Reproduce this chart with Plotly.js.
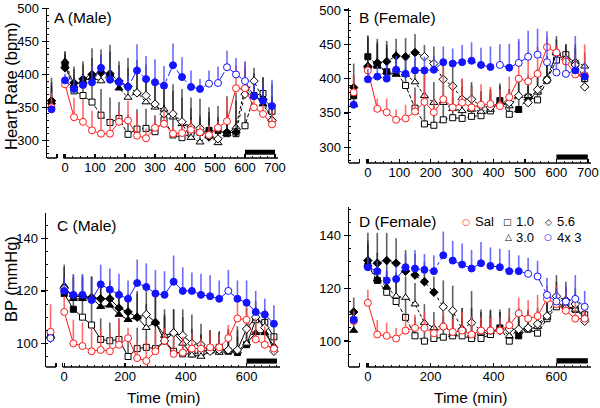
<!DOCTYPE html>
<html><head><meta charset="utf-8">
<script src="https://cdn.plot.ly/plotly-3.0.1.min.js"></script>
<style>html,body{margin:0;padding:0;background:#fff}#chart{width:600px;height:408px}</style>
</head><body><div id="chart"></div>
<script>
// time points (min); first is pre-treatment baseline
const T = [-45, 0, 30, 60, 90, 120, 150, 180, 210, 240, 270, 300, 330, 360, 390, 420, 450, 480, 510, 540, 570, 600, 630, 660, 690];
const seriesNames = ["Sal", "1.0", "3.0", "5.6", "4x 3"];

// ---- A: Heart rate, male
const A_sal = [350, 385, 335, 328, 315, 310, 310, 328, 330, 307, 303, 319, 325, 310, 311, 316, 312, 308, 319, 329, 379, 379, 350, 340, 324];
const A_sal_err = [22, 10, 30, 35, 30, 35, 25, 20, 30, 35, 15, 15, 20, 10, 15, 15, 10, 15, 10, 35, 35, 40, 20, 20, 20];
const A_sal_f = [0,0,0,0,0,0,0,0,0,0,0,0,0,0,0,0,0,0,0,0,0,0,0,0,0];
const A_10 = [352, 415, 375, 368, 358, 338, 327, 333, 309, 317, 318, 313, 331, 308, 304, 310, 312, 315, 315, 310, 310, 322, 368, 371, 344];
const A_10_err = [30, 15, 20, 30, 35, 40, 38, 25, 30, 30, 30, 25, 25, 30, 25, 25, 20, 20, 20, 20, 20, 20, 25, 25, 20];
const A_10_f = [1,1,0,0,0,0,0,0,0,0,0,0,0,0,0,0,0,1,1,0,0,0,0,0,0];
const A_30 = [358, 420, 383, 390, 395, 390, 400, 379, 365, 373, 358, 350, 347, 335, 325, 304, 297, 308, 296, 310, 320, 380, 367, 355, 332];
const A_30_err = [30, 15, 25, 25, 30, 40, 35, 35, 45, 40, 40, 35, 30, 40, 40, 45, 40, 35, 35, 35, 40, 30, 35, 30, 35];
const A_30_f = [1,1,1,1,1,0,1,1,0,0,0,0,0,0,0,0,0,0,0,0,0,0,1,1,0];
const A_56 = [360, 410, 387, 393, 400, 403, 401, 390, 382, 372, 368, 355, 340, 340, 328, 320, 318, 305, 302, 312, 312, 370, 390, 362, 330];
const A_56_err = [35, 25, 25, 27, 40, 35, 44, 30, 43, 50, 47, 40, 40, 45, 50, 45, 45, 45, 50, 55, 60, 40, 20, 33, 55];
const A_56_f = [1,1,1,1,1,1,1,1,1,0,0,0,0,0,0,0,0,1,0,1,1,0,0,1,0];
const A_43 = [347, 391, 378, 384, 388, 410, 392, 388, 381, 406, 393, 388, 383, 414, 396, 381, 378, 386, 387, 411, 400, 390, 367, 360, 352];
const A_43_err = [0, 10, 15, 15, 25, 20, 20, 20, 15, 40, 35, 35, 30, 33, 30, 25, 15, 20, 25, 25, 25, 30, 20, 25, 40];
const A_43_f = [1,1,1,1,1,1,1,1,1,1,1,1,1,1,1,1,1,0,0,0,0,0,1,1,1];

// ---- B: Heart rate, female
const B_sal = [380, 412, 356, 351, 340, 342, 352, 366, 351, 370, 358, 365, 358, 362, 363, 360, 373, 400, 396, 407, 446, 438, 425, 406, 405];
const B_sal_err = [25, 10, 15, 20, 15, 20, 25, 40, 20, 55, 35, 35, 30, 30, 25, 25, 30, 55, 40, 40, 15, 10, 10, 30, 45];
const B_sal_f = [0,0,0,0,0,0,0,0,0,0,0,0,0,0,0,0,0,0,0,0,0,0,0,0,0];
const B_10 = [375, 432, 420, 410, 410, 390, 357, 334, 332, 340, 343, 342, 345, 346, 353, 368, 348, 355, 373, 369, 398, 427, 435, 422, 400];
const B_10_err = [30, 30, 30, 35, 25, 25, 30, 30, 30, 25, 30, 30, 25, 25, 25, 25, 20, 25, 25, 20, 25, 20, 15, 20, 15];
const B_10_f = [1,1,1,1,0,0,0,0,0,0,0,0,0,0,0,1,0,1,1,0,0,0,0,0,0];
const B_30 = [362, 418, 418, 410, 406, 406, 395, 375, 365, 365, 356, 353, 355, 352, 355, 365, 360, 375, 375, 380, 400, 437, 430, 425, 418];
const B_30_err = [30, 40, 35, 40, 35, 30, 35, 35, 30, 35, 35, 35, 35, 30, 30, 25, 25, 25, 30, 25, 30, 20, 20, 25, 20];
const B_30_f = [1,1,1,1,1,0,0,0,0,0,0,0,0,0,0,0,0,0,0,0,0,0,0,0,0];
const B_56 = [387, 418, 423, 425, 433, 432, 438, 432, 422, 399, 389, 370, 370, 360, 358, 362, 365, 375, 365, 384, 398, 437, 428, 420, 388];
const B_56_err = [35, 45, 35, 30, 25, 27, 27, 17, 25, 30, 35, 30, 25, 20, 25, 25, 20, 25, 25, 30, 35, 25, 20, 25, 20];
const B_56_f = [1,1,1,1,1,1,1,0,0,0,0,0,0,0,0,0,0,0,0,0,0,0,0,0,0];
const B_43 = [362, 399, 403, 400, 413, 407, 412, 412, 413, 424, 422, 424, 426, 420, 417, 420, 416, 423, 432, 435, 424, 409, 407, 412, 403];
const B_43_err = [0, 15, 15, 20, 20, 20, 20, 20, 20, 23, 22, 25, 27, 25, 30, 30, 35, 35, 38, 38, 45, 25, 25, 50, 20];
const B_43_f = [1,1,1,1,1,1,1,1,1,1,1,1,1,1,1,0,1,0,0,0,0,0,0,1,1];

// ---- C: Blood pressure, male
const C_sal = [104.4, 112, 100, 99, 97, 97.5, 97, 99.5, 102, 94.4, 93.3, 97, 101, 96, 96.5, 98, 98, 98.5, 98.5, 102, 109.5, 109, 101.5, 99.5, 98];
const C_sal_err = [10.5, 6, 9, 9, 9, 8, 8, 10, 4, 6, 8, 8, 5, 7, 6, 6, 4, 6, 5, 5, 8, 8, 8, 7, 5];
const C_sal_f = [0,0,0,0,0,0,0,0,0,0,0,0,0,0,0,0,0,0,0,0,0,0,0,0,0];
const C_10 = [103, 119, 113, 110, 107, 101.5, 101, 101.5, 95, 98, 98.5, 98, 101, 97, 96, 96, 96.5, 98, 98.5, 97, 96.5, 99.5, 109, 108, 102.5];
const C_10_err = [2, 6, 7, 8, 8, 8, 7, 8, 6, 8, 8, 9, 9, 8, 8, 8, 7, 6, 6, 6, 6, 6, 5, 5, 5];
const C_10_f = [0,1,1,0,0,0,0,0,0,0,0,0,0,0,0,0,0,0,0,1,1,1,0,0,0];
const C_30 = [103, 122, 117, 117, 117.5, 114, 114.5, 111, 109, 110, 106, 108, 103, 104, 100, 95.5, 95, 97, 96.5, 97, 97, 100, 104, 104, 99];
const C_30_err = [2, 7, 8, 8, 8, 8, 7, 8, 7, 9, 9, 10, 10, 9, 10, 10, 8, 8, 7, 8, 8, 8, 6, 6, 5];
const C_30_f = [0,1,1,1,1,1,1,1,1,1,0,1,0,0,0,0,0,0,0,0,0,0,1,1,1];
const C_56 = [102, 121, 118, 118, 117.5, 117, 117, 113.5, 112, 110, 111, 108, 101, 104, 103, 100, 99.5, 97, 97.5, 97.5, 97.5, 105.5, 110, 106, 97];
const C_56_err = [2, 9, 8, 8, 8, 7, 7, 7, 7, 10, 9, 10, 10, 9, 10, 11, 8, 8, 7, 8, 9, 8, 6, 6, 5];
const C_56_f = [0,0,1,1,1,1,1,1,1,1,0,1,1,0,0,0,0,0,0,0,0,0,0,0,0];
const C_43 = [102, 120, 118.5, 118.5, 116.5, 122.5, 120.5, 118.5, 117, 123, 121.5, 119, 118.5, 123.5, 120, 120, 118.5, 118, 117, 120, 117, 115.5, 112, 111, 107.5];
const C_43_err = [1, 5, 8, 8, 8, 7.5, 8, 8, 7, 9, 9, 9, 9, 10, 9, 7, 8, 8, 7, 8, 7, 8.5, 8, 6, 7];
const C_43_f = [0,1,1,1,1,1,1,1,1,1,1,1,1,1,1,1,1,1,1,0,1,1,1,1,1];

// ---- D: Blood pressure, female
const D_sal = [107.6, 114.5, 102.5, 102, 101, 104, 105, 105, 103, 105.5, 103.5, 104, 102.5, 104, 104, 104, 106, 110.5, 108.5, 109.5, 116, 114, 111.5, 108.5, 108.5];
const D_sal_err = [4, 5, 5.5, 5, 4, 6, 5, 6, 5, 6, 5, 7, 7, 5, 5, 5, 5, 6, 7, 8, 5, 7, 8, 8, 4];
const D_sal_f = [0,0,0,0,0,0,0,0,0,0,0,0,0,0,0,0,0,0,0,0,0,0,0,0,0];
const D_10 = [108, 128.5, 123, 118.5, 115, 109, 102, 100, 101, 101.5, 102, 102, 101, 101, 102.5, 105, 100, 102, 104.5, 103, 108.5, 113, 113.5, 112, 110];
const D_10_err = [3, 8, 8, 8, 8, 7, 7, 6, 5, 8, 8, 7, 8, 7, 7, 6, 6, 6, 6, 5, 6, 7, 6, 5, 4];
const D_10_f = [0,1,1,0,0,0,0,0,0,0,0,0,0,0,0,1,0,1,0,0,0,0,0,0,0];
const D_30 = [104, 129, 123.5, 120.5, 117, 116.5, 114, 107, 105, 106, 103, 104.5, 102.5, 103, 103.5, 105, 102, 104, 104.5, 105.5, 109, 114.5, 113, 112, 109];
const D_30_err = [4, 9, 10, 9, 9, 8, 8, 7, 6, 9, 9, 8, 10, 8, 8, 7, 7, 7, 7, 6, 7, 8, 7, 6, 5];
const D_30_f = [1,1,1,1,0,0,0,0,0,0,0,0,0,0,0,0,0,0,0,0,0,0,0,0,0];
const D_56 = [111, 130.5, 129.5, 130.5, 129.5, 126.5, 125, 122.5, 118.5, 113, 111.5, 104.5, 107, 104, 104, 104, 104.5, 104.5, 105, 106.5, 109.5, 117, 115.5, 114, 107.5];
const D_56_err = [5.5, 10.5, 11.5, 10.5, 9.5, 8, 8, 7.5, 6, 10, 9.5, 8, 12, 8, 8, 7, 8, 8, 7, 6, 7, 8, 7, 6, 5];
const D_56_f = [1,1,1,1,1,1,1,1,1,0,0,0,0,0,0,0,0,0,0,0,0,0,0,0,0];
const D_43 = [108, 128, 126.5, 123, 123.5, 128, 127.5, 127, 126.5, 132.5, 130.5, 129, 127.5, 129.5, 128.5, 128, 126.5, 126.5, 125.5, 124.5, 117.5, 115, 115, 116, 113];
const D_43_err = [3, 4, 4, 4, 5, 5, 7, 6, 6, 9, 7.5, 8, 7, 8, 7, 7, 8, 6, 6, 6, 6.5, 5, 6, 9, 6];
const D_43_f = [1,1,1,1,1,1,1,1,1,1,1,1,1,1,1,1,1,1,0,0,0,0,0,0,0];

const xTickVals = [0, 100, 200, 300, 400, 500, 600, 700];
const xTickValsBP = [0, 200, 400, 600];
const xMinorVals = [0,25,50,75,100,125,150,175,200,225,250,275,300,325,350,375,400,425,450,475,500,525,550,575,600,625,650,675,700];
const hrTicks = [300, 350, 400, 450, 500];
const bpTicks = [100, 120, 140];

// ---------- styling ----------
const RED = '#ff1a1a', BLUE = '#1414ff', BLK = '#000000';
const styles = {
  sal: {color: RED, symbol: 'circle', size: 7, ecolor: 'rgba(255,70,70,0.8)'},
  s10: {color: BLK, symbol: 'square', size: 6, ecolor: 'rgba(30,30,30,0.7)'},
  s30: {color: BLK, symbol: 'triangle-up', size: 7, ecolor: 'rgba(30,30,30,0.7)'},
  s56: {color: BLK, symbol: 'diamond', size: 6.5, ecolor: 'rgba(30,30,30,0.7)'},
  s43: {color: BLUE, symbol: 'circle', size: 7, ecolor: 'rgba(70,70,255,0.8)'}
};

const traces = [];
function addSeries(n, y, err, fill, st, dash) {
  const xa = 'x' + (n === 1 ? '' : n), ya = 'y' + (n === 1 ? '' : n);
  const fills = fill.map(f => f ? st.color : '#ffffff');
  const mk = (i0, i1, mode) => ({
    x: T.slice(i0, i1), y: y.slice(i0, i1), xaxis: xa, yaxis: ya,
    type: 'scatter', mode: mode, showlegend: false, cliponaxis: false,
    line: {color: st.color, width: 1, dash: dash},
    marker: {symbol: st.symbol, size: st.size, color: fills.slice(i0, i1), line: {color: st.color, width: 1}},
    error_y: {type: 'data', symmetric: false, array: err.slice(i0, i1), arrayminus: err.slice(i0, i1).map(() => 0),
              color: st.ecolor, thickness: 1.6, width: 0}
  });
  traces.push(mk(0, 1, 'markers'));
  traces.push(mk(1, T.length, 'lines+markers'));
}
const panels = [
  [1, [A_10, A_10_err, A_10_f], [A_30, A_30_err, A_30_f], [A_56, A_56_err, A_56_f], [A_sal, A_sal_err, A_sal_f], [A_43, A_43_err, A_43_f], false],
  [2, [B_10, B_10_err, B_10_f], [B_30, B_30_err, B_30_f], [B_56, B_56_err, B_56_f], [B_sal, B_sal_err, B_sal_f], [B_43, B_43_err, B_43_f], false],
  [3, [C_10, C_10_err, C_10_f], [C_30, C_30_err, C_30_f], [C_56, C_56_err, C_56_f], [C_sal, C_sal_err, C_sal_f], [C_43, C_43_err, C_43_f], true],
  [4, [D_10, D_10_err, D_10_f], [D_30, D_30_err, D_30_f], [D_56, D_56_err, D_56_f], [D_sal, D_sal_err, D_sal_f], [D_43, D_43_err, D_43_f], false]
];
panels.forEach(p => {
  const n = p[0], solid = p[6];
  addSeries(n, p[1][0], p[1][1], p[1][2], styles.s10, solid ? 'solid' : '4px,2px');
  addSeries(n, p[2][0], p[2][1], p[2][2], styles.s30, solid ? 'solid' : '3px,2px');
  addSeries(n, p[3][0], p[3][1], p[3][2], styles.s56, solid ? 'solid' : 'dot');
  addSeries(n, p[4][0], p[4][1], p[4][2], styles.sal, 'solid');
  addSeries(n, p[5][0], p[5][1], p[5][2], styles.s43, solid ? 'solid' : 'dashdot');
});

const FONT = 'Arial, "Liberation Sans", sans-serif';
const W = 600, H = 408;
const px = v => v / W, py = v => 1 - v / H;

function xAxis(d0, d1, anchor, vals) {
  return {
    domain: [px(d0), px(d1)], range: [-60, 710], anchor: anchor, showline: false, zeroline: false, showgrid: false,
    tickmode: 'array', tickvals: [-27, -5].concat(vals), ticktext: ['', ''].concat(vals.map(String)),
    ticks: 'inside', ticklen: 4, tickwidth: 1.3, tickcolor: '#000', ticklabeloverflow: 'allow',
    minor: {tickmode: 'array', tickvals: xMinorVals, ticks: 'inside', ticklen: 2, tickwidth: 1, tickcolor: '#000'},
    tickfont: {family: FONT, size: 13, color: '#000'}, fixedrange: true
  };
}
function yAxis(top, bot, range, anchor, vals, mdt) {
  return {
    domain: [py(bot), py(top)], range: range, anchor: anchor, showline: true, linewidth: 1.5, linecolor: '#000',
    zeroline: false, showgrid: false, tickmode: 'array', tickvals: vals, ticklabeloverflow: 'allow',
    ticks: 'outside', ticklen: 4, tickwidth: 1.3, tickcolor: '#000',
    minor: {dtick: mdt, ticks: 'inside', ticklen: 2, tickwidth: 1, tickcolor: '#000'},
    tickfont: {family: FONT, size: 13, color: '#000'}, fixedrange: true
  };
}

const shapes = [];
['', '2', '3', '4'].forEach(s => {
  const xr = 'x' + s, yr = 'y' + (s) + ' domain';
  shapes.push({type: 'line', xref: xr, yref: yr, x0: -60, x1: -27, y0: 0, y1: 0, line: {color: '#000', width: 1.5}});
  shapes.push({type: 'line', xref: xr, yref: yr, x0: -5, x1: 710, y0: 0, y1: 0, line: {color: '#000', width: 1.5}});
  shapes.push({type: 'rect', xref: xr, yref: yr, x0: 600, x1: 700, y0: 0.022, y1: 0.055, fillcolor: '#000', line: {width: 0}});
});

const ann = (x, y, text, o) => Object.assign({xref: 'paper', yref: 'paper', x: px(x), y: py(y), text: text, showarrow: false,
  font: {family: FONT, size: 15.5, color: '#000'}, xanchor: 'left', yanchor: 'middle'}, o || {});
const annotations = [
  ann(52, 18, 'A (Male)'),
  ann(357, 18, 'B (Female)'),
  ann(55, 225, 'C (Male)'),
  ann(357, 222, 'D (Female)'),
  ann(11, 87, 'Heart Rate (bpm)', {textangle: -90, xanchor: 'center', font: {family: FONT, size: 16.5, color: '#000'}}),
  ann(11, 279, 'BP (mmHg)', {textangle: -90, xanchor: 'center', font: {family: FONT, size: 16.5, color: '#000'}}),
  ann(163, 397, 'Time (min)', {xanchor: 'center', font: {family: FONT, size: 15.5, color: '#000'}}),
  ann(470, 397, 'Time (min)', {xanchor: 'center', font: {family: FONT, size: 15.5, color: '#000'}}),
  // legend
  ann(466, 222, '○', {xanchor: 'center', font: {family: 'DejaVu Sans', size: 9, color: RED}}),
  ann(473, 222, seriesNames[0], {font: {family: FONT, size: 13, color: '#000'}}),
  ann(507, 222, '□', {xanchor: 'center', font: {family: 'DejaVu Sans', size: 9, color: BLK}}),
  ann(514, 222, seriesNames[1], {font: {family: FONT, size: 13, color: '#000'}}),
  ann(548, 222, '◇', {xanchor: 'center', font: {family: 'DejaVu Sans', size: 9, color: BLK}}),
  ann(555, 222, seriesNames[3], {font: {family: FONT, size: 13, color: '#000'}}),
  ann(508, 237, '△', {xanchor: 'center', font: {family: 'DejaVu Sans', size: 9, color: BLK}}),
  ann(514, 237, seriesNames[2], {font: {family: FONT, size: 13, color: '#000'}}),
  ann(548, 237, '○', {xanchor: 'center', font: {family: 'DejaVu Sans', size: 9, color: BLUE}}),
  ann(555, 237, seriesNames[4], {font: {family: FONT, size: 13, color: '#000'}})
];

const layout = {
  width: W, height: H, autosize: false, margin: {l: 0, r: 0, t: 0, b: 0},
  paper_bgcolor: '#fff', plot_bgcolor: '#fff', showlegend: false,
  font: {family: FONT, size: 13, color: '#000'},
  xaxis: xAxis(47, 278, 'y', xTickVals),
  yaxis: yAxis(8, 158, [273, 501], 'x', hrTicks, 10),
  xaxis2: xAxis(349, 591, 'y2', xTickVals),
  yaxis2: yAxis(8, 163, [277, 503], 'x2', hrTicks, 10),
  xaxis3: xAxis(46, 280, 'y3', xTickValsBP),
  yaxis3: yAxis(213, 367, [91, 149.7], 'x3', bpTicks, 5),
  xaxis4: xAxis(349, 591, 'y4', xTickValsBP),
  yaxis4: yAxis(207, 367, [90.2, 150.8], 'x4', bpTicks, 5),
  shapes: shapes, annotations: annotations
};
Plotly.newPlot('chart', traces, layout, {staticPlot: true, displayModeBar: false});
</script></body></html>
